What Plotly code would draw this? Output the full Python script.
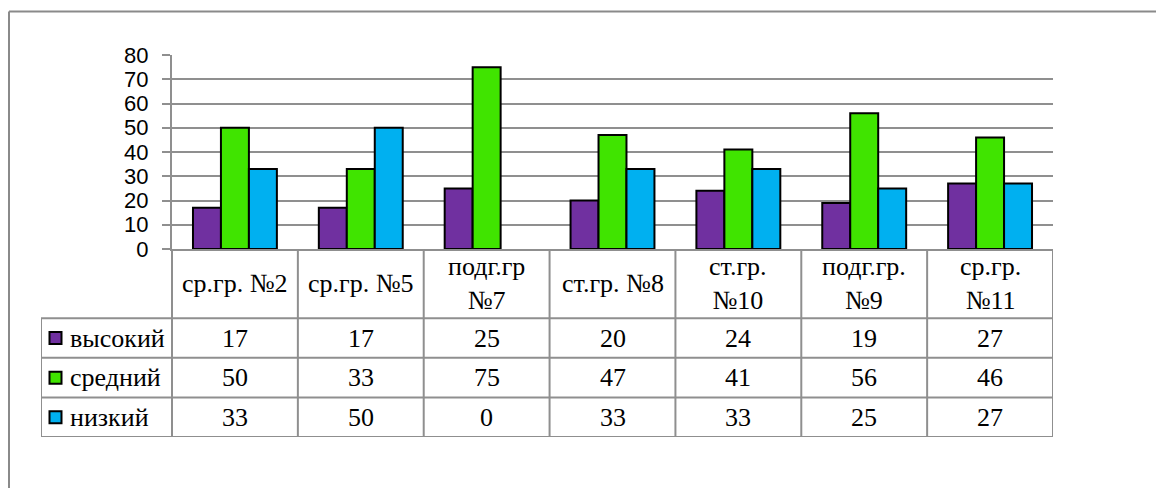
import plotly.graph_objects as go

categories = ["ср.гр. №2", "ср.гр. №5", "подг.гр<br>№7", "ст.гр. №8", "ст.гр.<br>№10", "подг.гр.<br>№9", "ср.гр.<br>№11"]
series_names = ["высокий", "средний", "низкий"]
vysokiy = [17, 17, 25, 20, 24, 19, 27]
sredniy = [50, 33, 75, 47, 41, 56, 46]
nizkiy = [33, 50, 0, 33, 33, 25, 27]
y_ticks = [0, 10, 20, 30, 40, 50, 60, 70, 80]

colors = ["#7030A0", "#40E400", "#00B0F0"]
series_values = [vysokiy, sredniy, nizkiy]

W, H = 1156, 488
PX_L, PX_R = 172, 1053          # plot area left/right
PX_TOP, PX_ZERO = 55, 249       # y=80 and y=0
PX_TBL_L, PX_TBL_B = 41, 437    # table left / bottom
GRID = "#8F8F8F"
SERIF = "Liberation Serif"
FS = 26
n = len(categories)
cat_w = (PX_R - PX_L) / n
leg_w = (PX_L - PX_TBL_L) / cat_w
HDR = 1.75  # header row height in row units

fig = go.Figure()
for name, vals, col in zip(series_names, series_values, colors):
    fig.add_trace(go.Bar(
        x=list(range(n)), y=vals, name=name,
        marker=dict(color=col, line=dict(color="black", width=[2 if v else 0 for v in vals])),
        showlegend=False, hoverinfo="skip",
    ))

# legend keys in table
for i, (name, col) in enumerate(zip(series_names, colors)):
    fig.add_trace(go.Scatter(
        x=[-0.5 - leg_w + 14.5 / cat_w], y=[HDR + i + 0.5],
        xaxis="x2", yaxis="y2", mode="markers",
        marker=dict(symbol="square", size=12, color=col, line=dict(color="black", width=2)),
        showlegend=False, hoverinfo="skip",
    ))

shapes = []
# outer chart border (top + left)
shapes.append(dict(type="line", xref="paper", yref="paper", x0=9 / W, x1=1.0, y0=1 - 11.5 / H, y1=1 - 11.5 / H,
                   line=dict(color="#8A8A8A", width=2)))
shapes.append(dict(type="line", xref="paper", yref="paper", x0=9 / W, x1=9 / W, y0=0, y1=1 - 11.5 / H,
                   line=dict(color="#8A8A8A", width=2)))
# table horizontal lines
for yy in [HDR + k for k in range(len(series_names) + 1)]:
    shapes.append(dict(type="line", xref="x2", yref="y2", x0=-0.5 - leg_w, x1=n - 0.5, y0=yy, y1=yy,
                       line=dict(color=GRID, width=2)))
# table vertical lines
shapes.append(dict(type="line", xref="x2", yref="y2", x0=-0.5 - leg_w, x1=-0.5 - leg_w, y0=HDR,
                   y1=HDR + len(series_names), line=dict(color=GRID, width=2)))
for k in range(n + 1):
    shapes.append(dict(type="line", xref="x2", yref="y2", x0=k - 0.5, x1=k - 0.5, y0=0,
                       y1=HDR + len(series_names), line=dict(color=GRID, width=2)))

annotations = []
for j, c in enumerate(categories):
    annotations.append(dict(xref="x2", yref="y2", x=j, y=HDR / 2, text=c, showarrow=False,
                            font=dict(family=SERIF, size=FS, color="black"), xanchor="center", yanchor="middle"))
for i, (name, vals) in enumerate(zip(series_names, series_values)):
    annotations.append(dict(xref="x2", yref="y2", x=-0.5 - leg_w + 27 / cat_w, y=HDR + i + 0.5, text=name,
                            showarrow=False, font=dict(family=SERIF, size=FS, color="black"),
                            xanchor="left", yanchor="middle"))
    for j, v in enumerate(vals):
        annotations.append(dict(xref="x2", yref="y2", x=j, y=HDR + i + 0.5, text=str(v), showarrow=False,
                                font=dict(family=SERIF, size=FS, color="black"),
                                xanchor="center", yanchor="middle"))

fig.update_layout(
    template="none",
    width=W, height=H, autosize=False,
    margin=dict(l=0, r=0, t=0, b=0, pad=0),
    paper_bgcolor="white", plot_bgcolor="white",
    barmode="group", bargap=1 / 3, bargroupgap=0,
    xaxis=dict(domain=[PX_L / W, PX_R / W], range=[-0.5, n - 0.5], showticklabels=False, automargin=False,
               showgrid=False, zeroline=False, showline=True, linecolor=GRID, linewidth=2, ticks=""),
    yaxis=dict(domain=[1 - PX_ZERO / H, 1 - PX_TOP / H], range=[0, 80], tickvals=y_ticks, automargin=False,
               showgrid=True, gridcolor=GRID, gridwidth=2, zeroline=False,
               showline=True, linecolor=GRID, linewidth=2, ticks="outside", ticklen=8,
               tickcolor=GRID, tickwidth=2,
               tickfont=dict(family="Liberation Sans", size=22, color="black"), ticklabelstandoff=9),
    xaxis2=dict(domain=[PX_TBL_L / W, PX_R / W], range=[-0.5 - leg_w, n - 0.5], anchor="y2",
                visible=False, automargin=False),
    yaxis2=dict(domain=[1 - PX_TBL_B / H, 1 - PX_ZERO / H], range=[HDR + len(series_names), 0],
                anchor="x2", visible=False, automargin=False),
    shapes=shapes, annotations=annotations,
)

fig.write_html("out.html", config={"displayModeBar": False},
               post_script="document.body.style.margin='0';document.body.style.overflow='hidden';")
